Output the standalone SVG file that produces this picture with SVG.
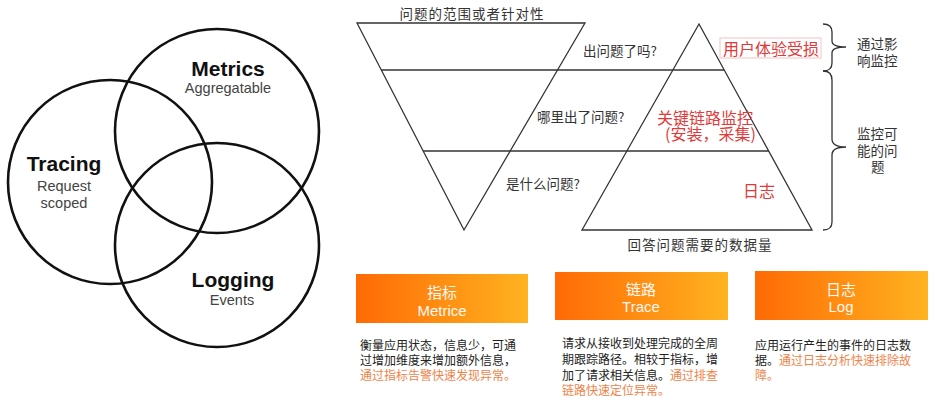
<svg xmlns="http://www.w3.org/2000/svg" width="940" height="405" viewBox="0 0 940 405">
<defs>
<linearGradient id="og" x1="0" y1="0" x2="1" y2="0">
<stop offset="0" stop-color="#ff6a05"/>
<stop offset="1" stop-color="#ffb320"/>
</linearGradient>
<style>
.venn{fill:none;stroke:#111;stroke-width:2.6}
.vt{font-family:"Liberation Sans",Arial,sans-serif;font-weight:bold;font-size:21px;fill:#111;text-anchor:middle}
.vs{font-family:"Liberation Sans",Arial,sans-serif;font-size:14.5px;fill:#444;text-anchor:middle}
.ln{fill:none;stroke:#333;stroke-width:1.3}
.cn{font-family:"Noto Sans CJK SC",sans-serif;font-size:13.5px;fill:#333}
.red{font-family:"Noto Sans CJK SC",sans-serif;font-size:16px;fill:#e23a3a}
.card{fill:url(#og)}
.ct{font-family:"Liberation Sans","Noto Sans CJK SC",sans-serif;font-size:15px;fill:#fff;text-anchor:middle;opacity:0.95}
.d{font-family:"Noto Sans CJK SC",sans-serif;font-size:12px;fill:#222}
.o{fill:#f0834a}
</style>
</defs>
<rect width="940" height="405" fill="#fff"/>

<g id="venn">
<g id="tracing">
<circle class="venn" cx="110" cy="182" r="102"/>
<text class="vt" x="64" y="171">Tracing</text>
<text class="vs" x="64" y="191">Request<tspan x="64" y="208">scoped</tspan></text>
</g>
<g id="metrics">
<circle class="venn" cx="217" cy="131" r="102"/>
<text class="vt" x="228" y="76">Metrics</text>
<text class="vs" x="228" y="93">Aggregatable</text>
</g>
<g id="logging">
<circle class="venn" cx="217" cy="245" r="102"/>
<text class="vt" x="233" y="287">Logging</text>
<text class="vs" x="232" y="305">Events</text>
</g>
</g>

<g id="funnel">
<polygon class="ln" points="357,23 585,23 464,230"/>
<polygon class="ln" points="699,24 812,230 582,230"/>
<line class="ln" x1="381" y1="70" x2="724" y2="70"/>
<line class="ln" x1="423" y1="151" x2="769" y2="151"/>
<text class="cn" x="472" y="19" text-anchor="middle" letter-spacing="1">问题的范围或者针对性</text>
<text class="cn" x="583" y="56">出问题了吗?</text>
<text class="cn" x="537" y="122">哪里出了问题?</text>
<text class="cn" x="506" y="189">是什么问题?</text>
<text class="cn" x="700" y="250" text-anchor="middle" letter-spacing="1">回答问题需要的数据量</text>
<rect x="720" y="38" width="101" height="20" fill="none" stroke="#f3c4c4" stroke-width="1"/>
<text class="red" x="723" y="55" font-size="16.5">用户体验受损</text>
<text class="red" x="657" y="124">关键链路监控<tspan x="665" y="140">(安装，采集)</tspan></text>
<text class="red" x="743" y="197">日志</text>
</g>

<g id="braces">
<path class="ln" d="M823,24 Q832,24 832,32 L832,41 Q832,47 846,47 Q832,47 832,53 L832,63 Q832,71 823,71"/>
<path class="ln" d="M823,71 Q832,71 832,80 L832,139 Q832,147 846,147 Q832,147 832,155 L832,222 Q832,230 823,230"/>
<text class="cn" x="857" y="49">通过影<tspan x="857" y="66">响监控</tspan></text>
<text class="cn" x="857" y="139">监控可<tspan x="857" y="156">能的问</tspan><tspan x="871" y="172">题</tspan></text>
</g>

<g id="card-metrice">
<rect class="card" x="356" y="274" width="172" height="49"/>
<text class="ct" x="442" y="298">指标<tspan x="442" y="316">Metrice</tspan></text>
<text class="d" x="360" y="350">衡量应用状态，信息少，可通<tspan x="360" y="365">过增加维度来增加额外信息，</tspan><tspan class="o" x="360" y="380">通过指标告警快速发现异常。</tspan></text>
</g>

<g id="card-trace">
<rect class="card" x="555" y="272" width="173" height="48"/>
<text class="ct" x="641" y="295">链路<tspan x="641" y="312">Trace</tspan></text>
<text class="d" x="562" y="348">请求从接收到处理完成的全周<tspan x="562" y="364">期跟踪路径。相较于指标，增</tspan><tspan x="562" y="380">加了请求相关信息。</tspan><tspan class="o">通过排查</tspan><tspan class="o" x="562" y="395">链路快速定位异常。</tspan></text>
</g>

<g id="card-log">
<rect class="card" x="755" y="271" width="173" height="49"/>
<text class="ct" x="841" y="295">日志<tspan x="841" y="312">Log</tspan></text>
<text class="d" x="755" y="350">应用运行产生的事件的日志数<tspan x="755" y="365">据。</tspan><tspan class="o">通过日志分析快速排除故</tspan><tspan class="o" x="755" y="380">障。</tspan></text>
</g>
</svg>
